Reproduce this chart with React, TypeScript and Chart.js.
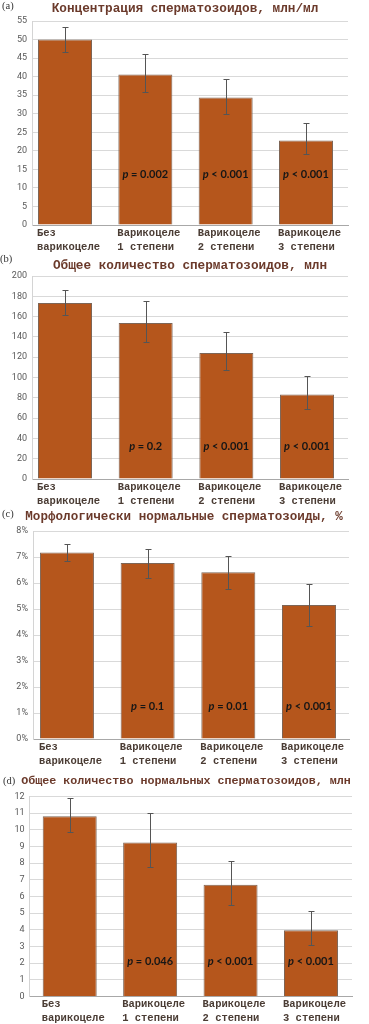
import React, { useEffect, useRef } from "react";
import { Chart, registerables } from "chart.js";

Chart.register(...registerables);

// ---------- data ----------
const categoryLabels: string[][] = [
  ["Без", "варикоцеле"],
  ["Варикоцеле", "1 степени"],
  ["Варикоцеле", "2 степени"],
  ["Варикоцеле", "3 степени"],
];

// (a) concentration
const concTitle = "Концентрация сперматозоидов, млн/мл";
const concMean = [50.0, 40.6, 34.4, 22.8];
const concLow = [46.6, 35.8, 29.8, 19.1];
const concHigh = [53.5, 46.1, 39.4, 27.5];
const concP = ["", "= 0.002", "< 0.001", "< 0.001"];
const concTickMax = 55;
const concTickStep = 5;
const concPLevel = 13.7;

// (b) total count
const totalTitle = "Общее количество сперматозоидов, млн";
const totalMean = [173.4, 153.7, 124.1, 83.3];
const totalLow = [161.6, 135.0, 107.4, 69.0];
const totalHigh = [186.5, 175.4, 144.4, 101.1];
const totalP = ["", "= 0.2", "< 0.001", "< 0.001"];
const totalTickMax = 200;
const totalTickStep = 20;
const totalPLevel = 32;

// (c) morphologically normal, %
const morphTitle = "Морфологически нормальные сперматозоиды, %";
const morphMean = [7.17, 6.77, 6.41, 5.15];
const morphLow = [6.86, 6.21, 5.78, 4.33];
const morphHigh = [7.49, 7.32, 7.05, 5.98];
const morphP = ["", "= 0.1", "= 0.01", "< 0.001"];
const morphTickMax = 8;
const morphTickStep = 1;
const morphPLevel = 1.27;

// (d) total normal count
const normTitle = "Общее количество нормальных сперматозоидов, млн";
const normMean = [10.82, 9.24, 6.7, 3.98];
const normLow = [9.86, 7.76, 5.5, 3.08];
const normHigh = [11.9, 11.0, 8.12, 5.16];
const normP = ["", "= 0.046", "< 0.001", "< 0.001"];
const normTickMax = 12;
const normTickStep = 1;
const normPLevel = 2.1;

// ---------- styles / layout ----------
const W = 369;
const BAR = "#b5561c";
const BAR_BORDER = "#7d6556";
const TITLE_COLOR = "#6b3a2b";
const LABEL_COLOR = "#4a3c34";

type PanelCfg = {
  tag: string;
  title: string;
  mean: number[];
  low: number[];
  high: number[];
  p: string[];
  yMax: number;
  yStep: number;
  pLevel: number;
  suffix: string;
  top: number;
  height: number;
  area: { left: number; right: number; top: number; bottom: number };
  xMin: number;
  xMax: number;
  barPct: number;
  titleX: number;
  titleY: number;
  titleSize: number;
  tagX: number;
  tagY: number;
};

const panels: PanelCfg[] = [
  {
    tag: "(a)", title: concTitle, mean: concMean, low: concLow, high: concHigh, p: concP,
    yMax: concTickMax, yStep: concTickStep, pLevel: concPLevel, suffix: "",
    top: 0, height: 253, area: { left: 32, right: 348, top: 21, bottom: 225 },
    xMin: -0.411, xMax: 3.523, barPct: 54 / 80.33,
    titleX: 185, titleY: 9, titleSize: 12.7, tagX: 2, tagY: 6,
  },
  {
    tag: "(b)", title: totalTitle, mean: totalMean, low: totalLow, high: totalHigh, p: totalP,
    yMax: totalTickMax, yStep: totalTickStep, pLevel: totalPLevel, suffix: "",
    top: 253, height: 254, area: { left: 32, right: 348, top: 23, bottom: 226 },
    xMin: -0.409, xMax: 3.508, barPct: 54 / 80.67,
    titleX: 190, titleY: 13, titleSize: 12.7, tagX: 0, tagY: 6.5,
  },
  {
    tag: "(c)", title: morphTitle, mean: morphMean, low: morphLow, high: morphHigh, p: morphP,
    yMax: morphTickMax, yStep: morphTickStep, pLevel: morphPLevel, suffix: "%",
    top: 507, height: 262, area: { left: 33, right: 349, top: 24, bottom: 232 },
    xMin: -0.421, xMax: 3.496, barPct: 54 / 80.67,
    titleX: 184, titleY: 10, titleSize: 12.6, tagX: 2, tagY: 7,
  },
  {
    tag: "(d)", title: normTitle, mean: normMean, low: normLow, high: normHigh, p: normP,
    yMax: normTickMax, yStep: normTickStep, pLevel: normPLevel, suffix: "",
    top: 769, height: 255, area: { left: 29.5, right: 352, top: 27.5, bottom: 227.5 },
    xMin: -0.5, xMax: 3.51, barPct: 54 / 80.43,
    titleX: 186, titleY: 12.5, titleSize: 11.7, tagX: 3, tagY: 12.5,
  },
];

function Panel({ cfg }: { cfg: PanelCfg }) {
  const ref = useRef<HTMLCanvasElement | null>(null);

  useEffect(() => {
    const canvas = ref.current;
    if (!canvas) return;
    const A = cfg.area;

    const overlay = {
      id: "overlay",
      afterDatasetsDraw(chart: any) {
        const { ctx } = chart;
        const xs = chart.scales.x;
        const ys = chart.scales.y;
        ctx.save();
        // error bars
        ctx.strokeStyle = "#555555";
        ctx.lineWidth = 1;
        cfg.mean.forEach((_, i) => {
          const px = Math.round(xs.getPixelForValue(i)) + 0.5;
          const yh = Math.round(ys.getPixelForValue(cfg.high[i])) + 0.5;
          const yl = Math.round(ys.getPixelForValue(cfg.low[i])) + 0.5;
          ctx.beginPath();
          ctx.moveTo(px, yh);
          ctx.lineTo(px, yl);
          ctx.moveTo(px - 3, yh);
          ctx.lineTo(px + 3, yh);
          ctx.moveTo(px - 3, yl);
          ctx.lineTo(px + 3, yl);
          ctx.stroke();
        });
        // p-values
        ctx.textBaseline = "middle";
        ctx.fillStyle = "#161616";
        const py = ys.getPixelForValue(cfg.pLevel);
        cfg.p.forEach((t, i) => {
          if (!t) return;
          const fItalic = "italic bold 11px Lato";
          const fBold = "bold 11px Lato";
          ctx.font = fItalic;
          const w1 = ctx.measureText("p").width;
          ctx.font = fBold;
          const rest = " " + t;
          const w2 = ctx.measureText(rest).width;
          const cx = xs.getPixelForValue(i);
          const x0 = cx - (w1 + w2) / 2;
          ctx.textAlign = "left";
          ctx.font = fItalic;
          ctx.fillText("p", x0, py);
          ctx.font = fBold;
          ctx.fillText(rest, x0 + w1, py);
        });
        ctx.restore();
      },
      afterDraw(chart: any) {
        const { ctx } = chart;
        ctx.save();
        ctx.textBaseline = "middle";
        ctx.textAlign = "center";
        ctx.fillStyle = TITLE_COLOR;
        ctx.font = `bold ${cfg.titleSize}px "Liberation Mono"`;
        ctx.fillText(cfg.title, cfg.titleX, cfg.titleY);
        ctx.textAlign = "left";
        ctx.fillStyle = "#333333";
        ctx.font = `10.5px "Liberation Serif"`;
        ctx.fillText(cfg.tag, cfg.tagX, cfg.tagY);
        ctx.restore();
      },
    };

    const chart = new Chart(canvas, {
      type: "bar",
      data: {
        datasets: [
          {
            data: cfg.mean.map((v, i) => ({ x: i, y: v })),
            backgroundColor: BAR,
            borderColor: BAR_BORDER,
            borderWidth: 1,
            barPercentage: cfg.barPct,
            categoryPercentage: 1,
          } as any,
        ],
      },
      options: {
        responsive: false,
        animation: false,
        devicePixelRatio: 1,
        layout: { padding: { left: 0, right: W - A.right, top: A.top, bottom: 0 } },
        plugins: {
          legend: { display: false },
          tooltip: { enabled: false },
          title: { display: false },
        },
        scales: {
          x: {
            type: "linear",
            min: cfg.xMin,
            max: cfg.xMax,
            offset: false,
            grid: { display: false, offset: false, drawTicks: false },
            border: { display: true, color: "#a8a8a8" },
            afterBuildTicks: (s: any) => {
              s.ticks = categoryLabels.map((_, i) => ({ value: i }));
            },
            afterFit: (s: any) => {
              s.height = cfg.height - A.bottom;
              s.paddingLeft = 0;
              s.paddingRight = 0;
            },
            ticks: {
              align: "start",
              labelOffset: -28,
              padding: 1,
              autoSkip: false,
              maxRotation: 0,
              minRotation: 0,
              color: LABEL_COLOR,
              font: { family: "Liberation Mono", size: 10.5, weight: "bold", lineHeight: 1.33 },
              callback: (_v: any, i: number) => categoryLabels[i],
            },
          } as any,
          y: {
            min: 0,
            max: cfg.yMax,
            grid: { color: "#d9d9d9", drawTicks: false },
            border: { display: true, color: "#d4d4d4" },
            afterFit: (s: any) => {
              s.width = A.left;
              s.paddingTop = 0;
              s.paddingBottom = 0;
            },
            ticks: {
              stepSize: cfg.yStep,
              padding: 5,
              color: "#595959",
              font: { family: "Roboto", size: 9 },
              callback: (v: any) => `${v}${cfg.suffix}`,
            },
          } as any,
        },
      },
      plugins: [overlay],
    });
    return () => chart.destroy();
  }, [cfg]);

  return (
    <canvas
      ref={ref}
      width={W}
      height={cfg.height}
      style={{ position: "absolute", left: 0, top: cfg.top, width: W, height: cfg.height, display: "block" }}
    />
  );
}

export default function App() {
  return (
    <div style={{ position: "absolute", left: 0, top: 0, width: W, height: 1024, background: "#ffffff", overflow: "hidden" }}>
      {panels.map((p) => (
        <Panel key={p.tag} cfg={p} />
      ))}
    </div>
  );
}
